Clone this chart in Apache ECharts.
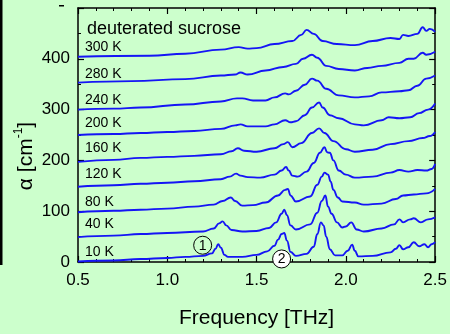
<!DOCTYPE html>
<html>
<head>
<meta charset="utf-8">
<script src="https://cdn.jsdelivr.net/npm/echarts@6/dist/echarts.min.js"></script>
<style>
  html, body { margin: 0; padding: 0; background: #ccffcc; }
  #chart { width: 450px; height: 334px; }
</style>
</head>
<body>
<div id="chart"></div>
<script>
// absorption spectra [frequency THz, alpha cm^-1], each trace offset by 50
const curve10K = [[0.5,1],[0.7,3],[0.85,6],[1.0,8],[1.1,10],[1.2,12],[1.25,17],[1.27,26],[1.285,35],[1.3,28],[1.32,14],[1.34,10],[1.42,10],[1.5,14],[1.56,21],[1.6,32],[1.62,44],[1.64,55],[1.655,57],[1.67,42],[1.69,20],[1.72,12],[1.78,16],[1.82,30],[1.84,55],[1.86,78],[1.875,72],[1.89,50],[1.91,25],[1.94,13],[1.98,13],[2.01,22],[2.035,34],[2.05,22],[2.07,11],[2.15,12],[2.25,19],[2.28,26],[2.3,33],[2.32,25],[2.35,29],[2.38,39],[2.41,31],[2.44,35],[2.46,29],[2.48,35],[2.5,39]]
const curve40K = [[0.5,49],[0.7,52],[0.85,55],[1.0,57],[1.2,60],[1.26,66],[1.29,76],[1.31,80],[1.33,72],[1.36,63],[1.42,60],[1.5,61],[1.57,67],[1.61,78],[1.64,95],[1.655,103],[1.67,92],[1.69,72],[1.72,64],[1.8,74],[1.84,97],[1.865,120],[1.885,131],[1.9,109],[1.92,95],[1.95,78],[1.98,68],[2.0,70],[2.03,78],[2.06,64],[2.1,60],[2.2,66],[2.27,74],[2.3,84],[2.32,78],[2.36,84],[2.38,86],[2.42,78],[2.46,84],[2.5,88]]
const curve80K = [[0.5,98],[0.7,101],[0.85,103],[1.0,105],[1.15,109],[1.26,113],[1.31,120],[1.355,127],[1.38,120],[1.42,111],[1.48,112],[1.55,117],[1.62,131],[1.66,142],[1.675,144],[1.69,131],[1.72,119],[1.8,129],[1.84,152],[1.865,168],[1.88,176],[1.9,172],[1.915,158],[1.93,142],[1.955,127],[1.98,119],[2.05,117],[2.1,113],[2.2,115],[2.28,124],[2.32,131],[2.38,133],[2.45,135],[2.5,144]]
const curve120K = [[0.5,148],[0.7,151],[0.85,154],[1.0,156],[1.15,159],[1.3,163],[1.35,168],[1.385,174],[1.41,170],[1.45,167],[1.52,166],[1.6,172],[1.64,180],[1.665,187],[1.68,180],[1.7,170],[1.73,168],[1.78,178],[1.82,195],[1.855,215],[1.88,226],[1.895,216],[1.91,215],[1.93,200],[1.96,180],[2.0,172],[2.05,166],[2.15,168],[2.25,176],[2.3,181],[2.35,178],[2.4,181],[2.45,180],[2.48,183],[2.5,193]]
const curve160K = [[0.5,197],[0.7,201],[0.85,205],[1.0,207],[1.15,209],[1.3,212],[1.36,218],[1.395,224],[1.43,219],[1.5,217],[1.6,224],[1.65,232],[1.675,236],[1.7,226],[1.75,234],[1.81,254],[1.85,263],[1.88,254],[1.93,238],[2.0,222],[2.05,217],[2.15,221],[2.25,232],[2.35,238],[2.43,244],[2.47,248],[2.5,256]]
const curve200K = [[0.5,250],[0.7,252],[0.85,254],[1.0,256],[1.15,258],[1.3,262],[1.38,269],[1.41,271],[1.45,267],[1.55,267],[1.6,271],[1.66,279],[1.69,275],[1.72,277],[1.77,289],[1.81,304],[1.85,314],[1.87,304],[1.91,289],[1.96,283],[2.05,271],[2.1,269],[2.2,279],[2.24,285],[2.3,283],[2.36,285],[2.41,293],[2.46,300],[2.5,312]]
const curve240K = [[0.5,300],[0.7,302],[0.85,304],[1.1,310],[1.3,316],[1.39,322],[1.42,322],[1.48,318],[1.55,318],[1.6,324],[1.66,332],[1.68,330],[1.72,337],[1.77,349],[1.81,361],[1.84,357],[1.89,341],[1.96,328],[2.05,324],[2.13,326],[2.2,334],[2.3,336],[2.35,338],[2.4,347],[2.45,361],[2.5,367]]
const curve280K = [[0.5,353],[0.8,356],[1.1,360],[1.3,367],[1.38,369],[1.41,373],[1.45,369],[1.55,377],[1.65,384],[1.72,390],[1.76,400],[1.81,408],[1.84,402],[1.89,386],[1.96,380],[2.05,377],[2.12,382],[2.2,386],[2.3,392],[2.35,400],[2.38,400],[2.43,412],[2.45,408],[2.5,414]]
const curve300K = [[0.5,404],[0.9,406],[1.1,410],[1.3,418],[1.4,423],[1.45,420],[1.5,421],[1.6,429],[1.7,435],[1.75,447],[1.78,457],[1.82,449],[1.87,435],[1.95,429],[2.05,427],[2.15,435],[2.25,441],[2.3,439],[2.32,447],[2.35,445],[2.4,449],[2.43,462],[2.45,455],[2.47,459],[2.5,453]]

const curves = [curve10K, curve40K, curve80K, curve120K, curve160K, curve200K, curve240K, curve280K, curve300K]
const tempLabels = ['10 K', '40 K', '80 K', '120 K', '160 K', '200 K', '240 K', '280 K', '300 K']
const labelLevels = [20, 74, 118, 172, 224, 274, 319, 370, 422]  // alpha value where each label sits

const xTicks = { min: 0.5, max: 2.5, interval: 0.5 }
const yTicks = { min: 0, max: 500, interval: 100 }

const font = 'Liberation Sans, Arial, sans-serif'
const black = '#000'
const blue = '#1515f5'

const chart = echarts.init(document.getElementById('chart'), null, { renderer: 'canvas' })

const axisCommon = {
  type: 'value',
  axisLine: { show: true, onZero: false, lineStyle: { color: black, width: 1.5 } },
  axisTick: { show: true, inside: true, length: 6, lineStyle: { color: black, width: 1.2 } },
  splitLine: { show: false },
}

chart.setOption({
  animation: false,
  backgroundColor: '#ccffcc',
  grid: { left: 78, right: 10, top: 8, bottom: 71 },
  xAxis: [
    {
      ...axisCommon,
      ...xTicks,
      position: 'bottom',
      minorTick: { show: true, splitNumber: 5, length: 3, lineStyle: { color: black } },
      axisLabel: {
        formatter: (v) => v.toFixed(1),
        fontSize: 17, color: black, fontFamily: font, margin: 10,
      },
      name: 'Frequency [THz]',
      nameLocation: 'middle',
      nameGap: 46,
      nameTextStyle: { fontSize: 21, color: black, fontFamily: font },
    },
    {
      ...axisCommon,
      ...xTicks,
      position: 'top',
      minorTick: { show: true, splitNumber: 5, length: 3, lineStyle: { color: black } },
      axisLabel: { show: false },
    },
  ],
  yAxis: [
    {
      ...axisCommon,
      ...yTicks,
      position: 'left',
      minorTick: { show: true, splitNumber: 2, length: 3, lineStyle: { color: black } },
      axisLabel: {
        showMaxLabel: false,
        fontSize: 17, color: black, fontFamily: font, margin: 8,
      },
    },
    {
      ...axisCommon,
      ...yTicks,
      position: 'right',
      minorTick: { show: true, splitNumber: 2, length: 3, lineStyle: { color: black } },
      axisLabel: { show: false },
    },
  ],
  series: curves.map((data, i) => ({
    name: tempLabels[i],
    type: 'line',
    xAxisIndex: 0,
    yAxisIndex: 0,
    data: data,
    showSymbol: false,
    symbol: 'none',
    smooth: 0.45,
    smoothMonotone: 'x',
    lineStyle: { color: blue, width: 1.9 },
  })),
})

// annotations placed in data coordinates
const toPx = (pt) => chart.convertToPixel({ gridIndex: 0 }, pt)

const graphics = [
  // dark bar at the left edge of the figure
  { type: 'rect', shape: { x: 0, y: 0, width: 2.5, height: 265 }, style: { fill: black } },
  { type: 'rect', shape: { x: 59, y: 5, width: 5, height: 1.5 }, style: { fill: black } },
  {
    type: 'text', x: 87, y: 29,
    style: { text: 'deuterated sucrose', fontSize: 18, fontFamily: font, fill: black, verticalAlign: 'middle' },
  },
  {
    type: 'text', x: 25, y: 156, rotation: Math.PI / 2,
    style: {
      text: '{a|α [cm}{s|-1}{a|]}',
      align: 'center', verticalAlign: 'middle',
      rich: {
        a: { fontSize: 21, fontFamily: font, fill: black, lineHeight: 24, verticalAlign: 'bottom' },
        s: { fontSize: 12, fontFamily: font, fill: black, lineHeight: 24, verticalAlign: 'top' },
      },
    },
  },
]

tempLabels.forEach((t, i) => {
  const [px, py] = toPx([0.539, labelLevels[i]])
  graphics.push({
    type: 'text', x: px, y: py,
    style: { text: t, fontSize: 14, fontFamily: font, fill: black, verticalAlign: 'middle' },
  })
})

const circleMarks = [
  { text: '1', at: [1.198, 33], fill: 'none' },
  { text: '2', at: [1.64, 6], fill: '#fff' },
]
circleMarks.forEach((c) => {
  const [px, py] = toPx(c.at)
  graphics.push({
    type: 'circle', shape: { cx: px, cy: py, r: 9 },
    style: { fill: c.fill, stroke: black, lineWidth: 1 }, z: 10,
  })
  graphics.push({
    type: 'text', x: px, y: py + 0.5, z: 11,
    style: { text: c.text, fontSize: 14, fontFamily: font, fill: black, align: 'center', verticalAlign: 'middle' },
  })
})

chart.setOption({ graphic: graphics })
</script>
</body>
</html>
